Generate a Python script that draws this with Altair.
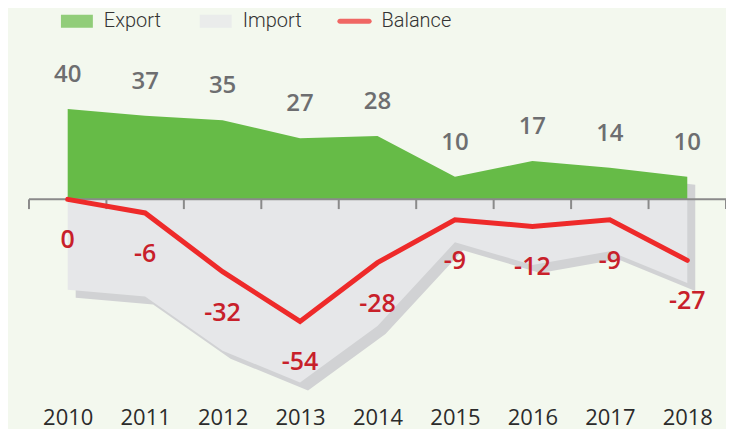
import altair as alt
import pandas as pd

years = [2010, 2011, 2012, 2013, 2014, 2015, 2016, 2017, 2018]
export_vals = [40, 37, 35, 27, 28, 10, 17, 14, 10]
import_vals = [40, 43, 67, 81, 56, 19, 29, 23, 37]
balance_vals = [0, -6, -32, -54, -28, -9, -12, -9, -27]
tick_edges = [2009.5, 2010.5, 2011.5, 2012.5, 2013.5, 2014.5, 2015.5, 2016.5, 2017.5, 2018.5]
series = ["Export", "Import", "Balance"]

GREEN = "#66bb47"
IMPORT_C = "#e6e7e9"
SHADOW_C = "#d1d2d4"
RED = "#ee2a2a"
RED_TXT = "#c8202a"
GRAY_TXT = "#6d6e70"
BG = "#f3f8ee"

df = pd.DataFrame({
    "year": years,
    "export": export_vals,
    "import_neg": [-v for v in import_vals],
    "balance": balance_vals,
    "balance_lbl": [str(v) for v in balance_vals],
    "zero": [0] * len(years),
})
ticks_df = pd.DataFrame({"year": tick_edges, "y0": [0] * len(tick_edges),
                         "y1": [-4.3] * len(tick_edges)})
axis_df = pd.DataFrame({"year": [min(tick_edges)], "x1": [max(tick_edges)], "y0": [0]})
legend_df = pd.DataFrame({"s": series})

xscale = alt.Scale(domain=[2009.5, 2018.5], nice=False, zero=False)
yscale = alt.Scale(domain=[-90, 66], nice=False)
xaxis = alt.Axis(values=years, format="d", ticks=False, tickSize=0,
                 domain=False, grid=False, title=None,
                 labelFont="Open Sans", labelFontSize=22,
                 labelColor="#2b2b2b", labelPadding=15,
                 labelBaseline="middle", labelFlush=False)


def X():
    return alt.X("year:Q", scale=xscale, axis=xaxis)


def Y(field):
    return alt.Y(field, scale=yscale, axis=None)


base = alt.Chart(df)

shadow = base.mark_area(color=SHADOW_C, xOffset=8, yOffset=8, y2Offset=8).encode(
    x=X(), y=Y("export:Q"), y2="import_neg:Q",
)
imp = base.mark_area(color=IMPORT_C).encode(
    x=X(), y=Y("import_neg:Q"), y2="zero:Q",
)
exp = base.mark_area(color=GREEN).encode(
    x=X(), y=Y("export:Q"), y2="zero:Q",
)
axis_line = alt.Chart(axis_df).mark_rule(color="#8a8a8a", strokeWidth=2).encode(
    x=X(), x2="x1:Q", y=Y("y0:Q"),
)
axis_ticks = alt.Chart(ticks_df).mark_rule(color="#8a8a8a", strokeWidth=2).encode(
    x=X(), y=Y("y0:Q"), y2="y1:Q",
)
bal_line = base.mark_line(color=RED, strokeWidth=5, strokeCap="round").encode(
    x=X(), y=Y("balance:Q"),
)
exp_lbl = base.mark_text(dy=-34, fontSize=24, fontWeight=600, font="Open Sans",
                         color=GRAY_TXT, baseline="middle").encode(
    x=X(), y=Y("export:Q"), text="export:Q",
)
bal_lbl = base.mark_text(dy=41, fontSize=25, fontWeight=600, font="Open Sans",
                         color=RED_TXT, baseline="middle").encode(
    x=X(), y=Y("balance:Q"), text="balance_lbl:N",
)

shapes = [
    "M-0.94,-0.38H0.94V0.38H-0.94Z",
    "M-0.94,-0.38H0.94V0.38H-0.94Z",
    "M-0.86,-0.15H0.86A0.15,0.15 0 0 1 0.86,0.15H-0.86A0.15,0.15 0 0 1 -0.86,-0.15Z",
]
leg_props = dict(title=None, orient="none", legendX=31, legendY=-46,
                 direction="horizontal", columnPadding=24, labelOffset=10,
                 gridAlign="all",
                 labelFont="Roboto", labelFontWeight=300,
                 labelFontSize=20,
                 labelColor="#333333", symbolSize=1156, symbolStrokeWidth=0)
legend_layer = alt.Chart(legend_df).transform_filter("datum.s == 'none'").mark_point(
    filled=True, size=1156, strokeWidth=0).encode(
    color=alt.Color("s:N", scale=alt.Scale(domain=series, range=[GREEN, IMPORT_C, RED]),
                    legend=alt.Legend(**leg_props)),
    shape=alt.Shape("s:N", scale=alt.Scale(domain=series, range=shapes),
                    legend=alt.Legend(**leg_props)),
)

chart = alt.layer(
    shadow, imp, exp, axis_line, axis_ticks, bal_line, exp_lbl, bal_lbl, legend_layer
).properties(
    width=698, height=353,
    background=BG,
    padding={"left": 21, "top": 42, "right": 0, "bottom": 26},
    autosize=alt.AutoSizeParams(type="none"),
).configure_view(stroke=None)

chart.save("out.html", embed_options={"renderer": "svg", "actions": False})
